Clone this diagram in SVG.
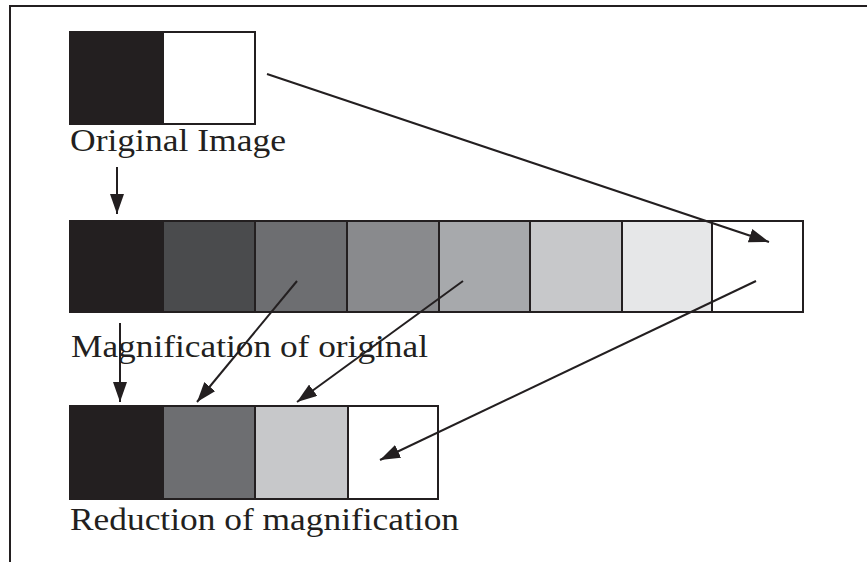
<svg xmlns="http://www.w3.org/2000/svg" width="867" height="562" viewBox="0 0 867 562">
  <style>
    .cell { stroke: #231f20; stroke-width: 2; }
    .lbl { font-family: "Liberation Serif", "Times New Roman", serif; font-size: 32px; fill: #231f20; }
    .conn { stroke: #231f20; stroke-width: 2; fill: none; marker-end: url(#head); }
    .frame { stroke: #231f20; stroke-width: 2; fill: none; }
  </style>
  <defs>
    <marker id="head" viewBox="0 0 20 14" refX="20" refY="7" markerWidth="20" markerHeight="14" markerUnits="userSpaceOnUse" orient="auto">
      <path d="M0,0 L20,7 L0,14 Z" fill="#231f20"/>
    </marker>
  </defs>
  <rect width="867" height="562" fill="#ffffff"/>
  <path class="frame" d="M10,562 V6 H867"/>

  <g id="original">
    <rect class="cell" x="70" y="32" width="93" height="92" fill="#231f20"/>
    <rect class="cell" x="163" y="32" width="92" height="92" fill="#ffffff"/>
    <text class="lbl" x="70" y="151" textLength="216" lengthAdjust="spacingAndGlyphs">Original Image</text>
  </g>

  <g id="magnification">
    <rect class="cell" x="70" y="221" width="93" height="91" fill="#231f20"/>
    <rect class="cell" x="163" y="221" width="92" height="91" fill="#4a4b4d"/>
    <rect class="cell" x="255" y="221" width="92" height="91" fill="#6d6e71"/>
    <rect class="cell" x="347" y="221" width="92" height="91" fill="#898a8d"/>
    <rect class="cell" x="439" y="221" width="91" height="91" fill="#a7a9ac"/>
    <rect class="cell" x="530" y="221" width="92" height="91" fill="#c7c8ca"/>
    <rect class="cell" x="622" y="221" width="90" height="91" fill="#e6e7e8"/>
    <rect class="cell" x="712" y="221" width="91" height="91" fill="#ffffff"/>
    <text class="lbl" x="71" y="357" textLength="357" lengthAdjust="spacingAndGlyphs">Magnification of original</text>
  </g>

  <g id="reduction">
    <rect class="cell" x="70" y="406" width="93" height="93" fill="#231f20"/>
    <rect class="cell" x="163" y="406" width="92" height="93" fill="#6d6e71"/>
    <rect class="cell" x="255" y="406" width="93" height="93" fill="#c7c8ca"/>
    <rect class="cell" x="348" y="406" width="90" height="93" fill="#ffffff"/>
    <text class="lbl" x="70" y="530" textLength="389" lengthAdjust="spacingAndGlyphs">Reduction of magnification</text>
  </g>

  <g id="connectors">
    <line class="conn" x1="267" y1="74" x2="769" y2="242"/>
    <line class="conn" x1="117" y1="167" x2="117" y2="214"/>
    <line class="conn" x1="120" y1="323" x2="120" y2="402"/>
    <line class="conn" x1="297" y1="281" x2="197" y2="402"/>
    <line class="conn" x1="463" y1="281" x2="297" y2="402"/>
    <line class="conn" x1="756" y1="281" x2="380" y2="460"/>
  </g>
</svg>
